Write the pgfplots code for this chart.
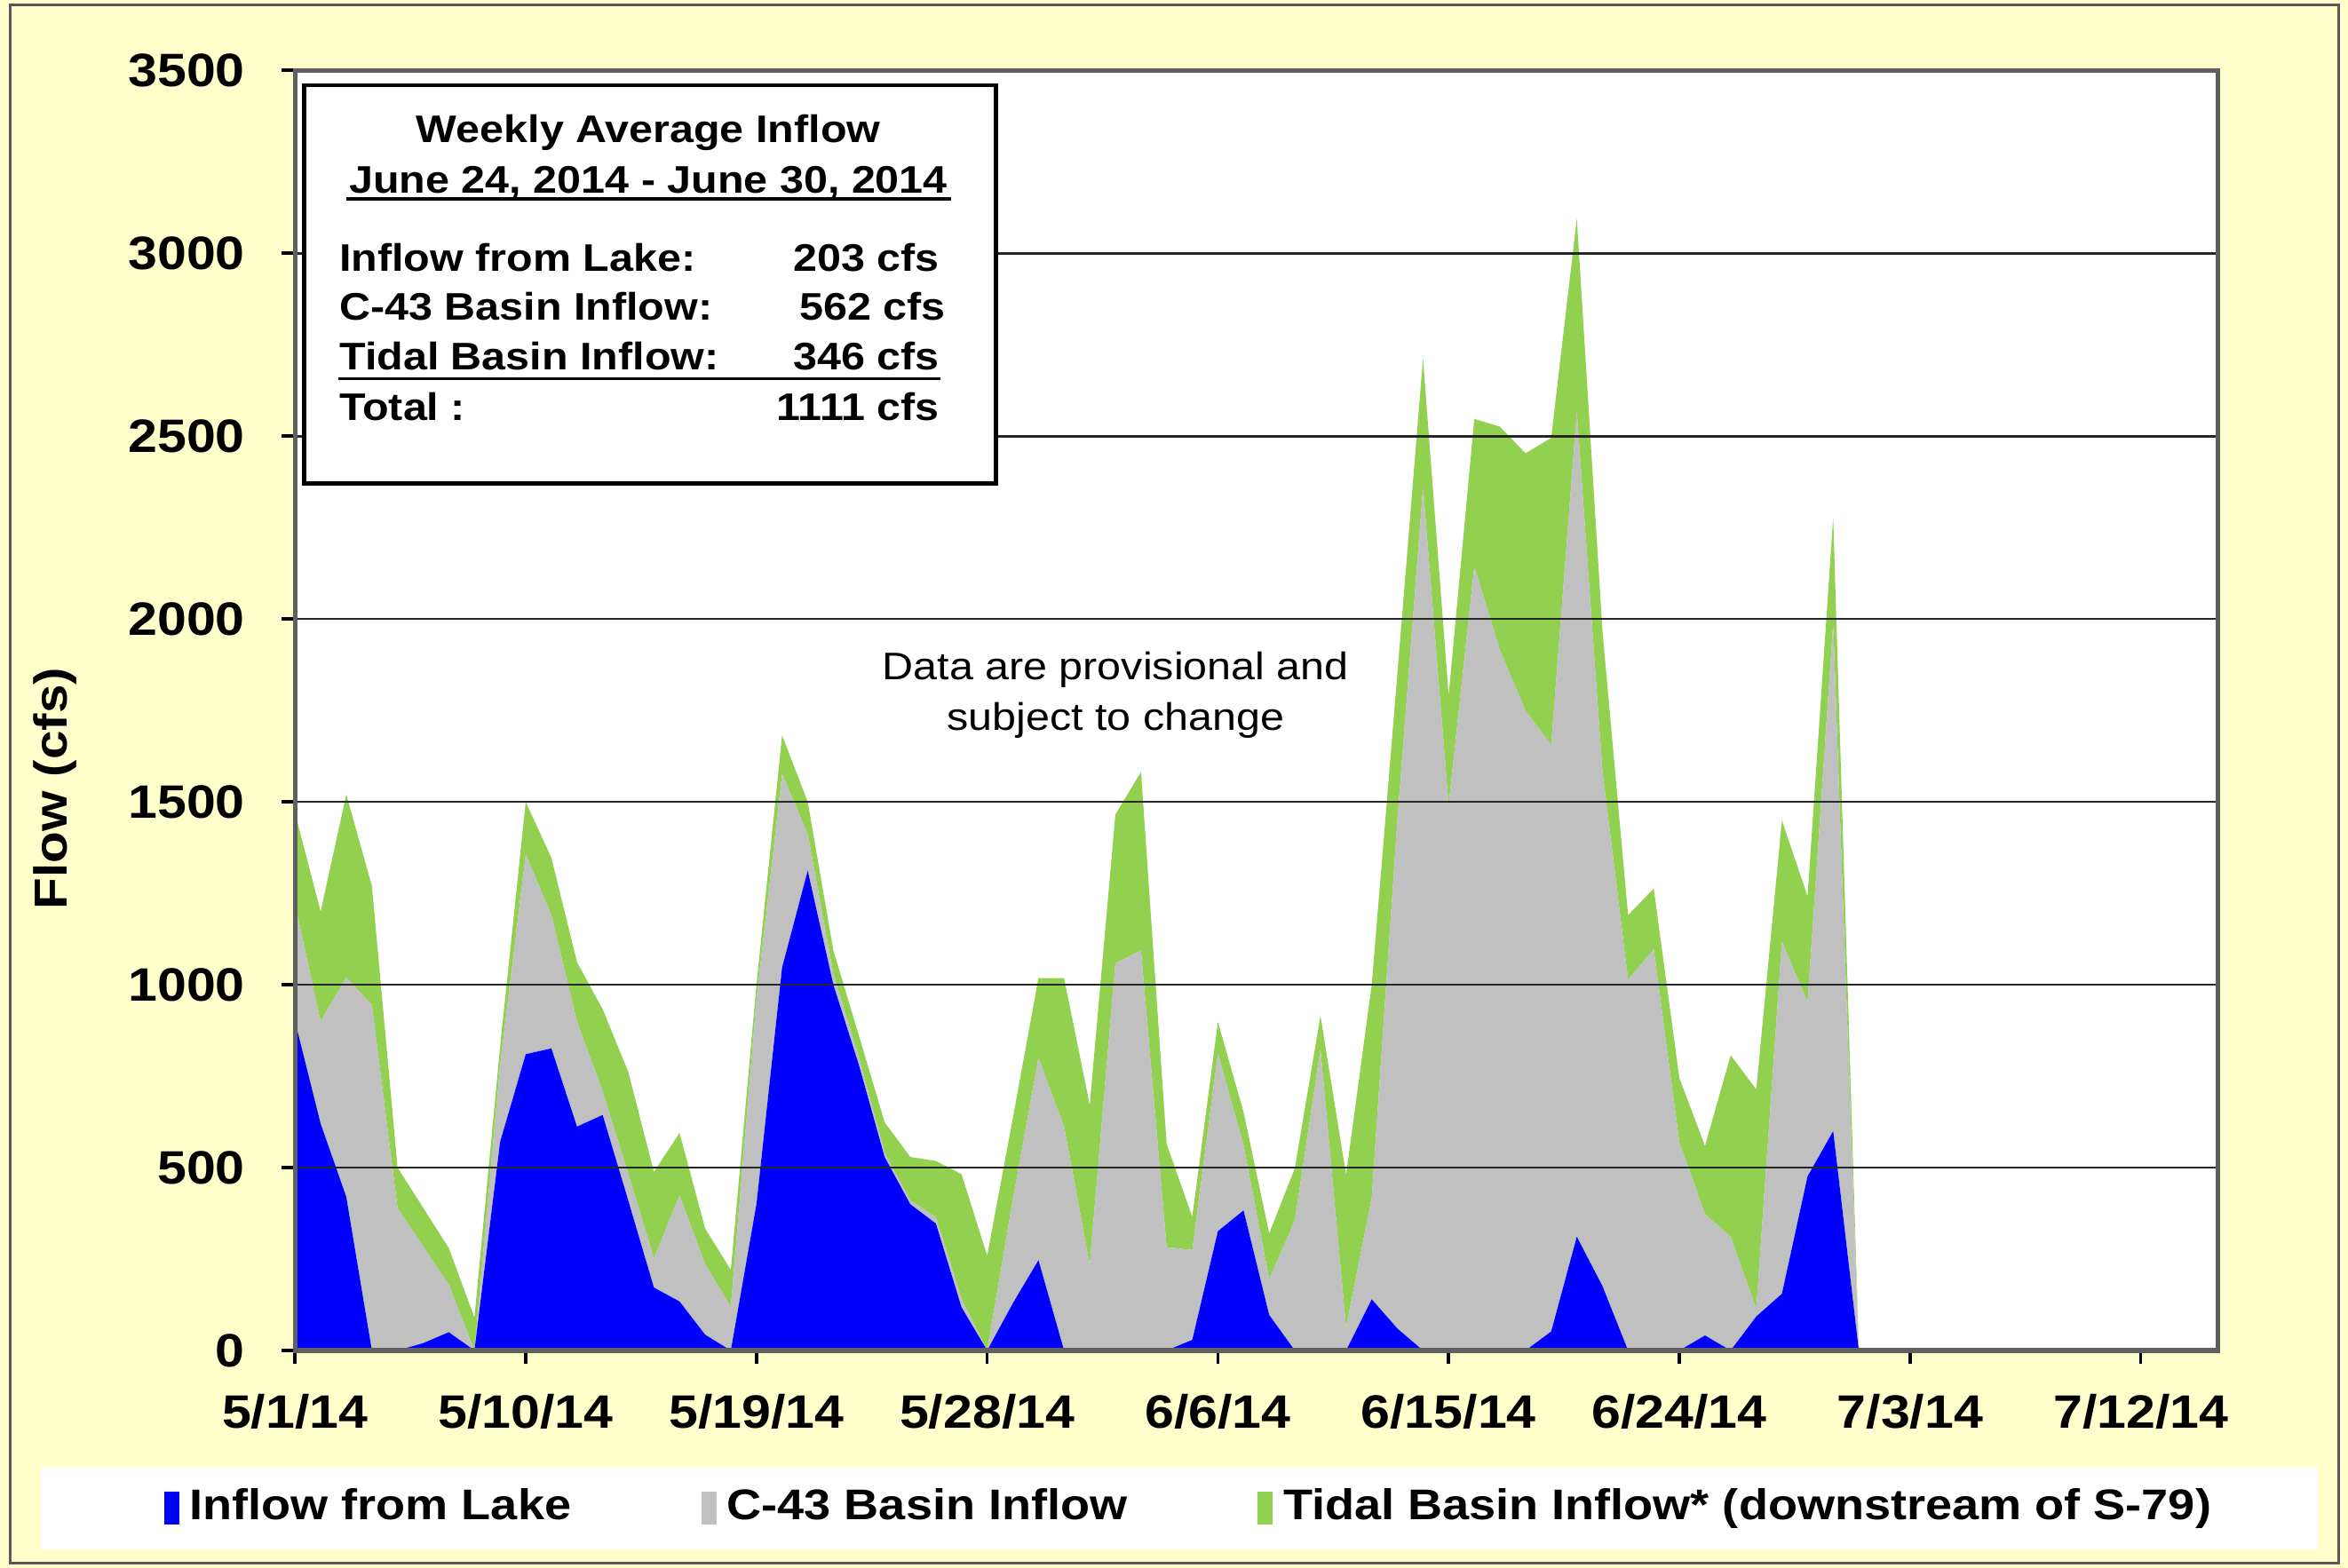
\documentclass[border=0pt]{standalone}
\usepackage{fontspec}
\setmainfont{Liberation Sans}[FakeStretch=1.12]
\usepackage{pgfplots}
\pgfplotsset{compat=1.18}
\usepackage{pgfplotstable}

\definecolor{lakeblue}{HTML}{0000FF}
\definecolor{basingray}{HTML}{C0C0C0}
\definecolor{tidalgreen}{HTML}{92D050}
\definecolor{bgyellow}{HTML}{FFFFCC}

\pgfplotstableread{
d lake c43 tidal
0 900 320 250
1 620 280 300
2 420 600 500
3 0 945 325
4 0 390 110
5 20 265 105
6 50 130 100
7 0 0 90
8 570 210 50
9 810 547 143
10 826 364 157
11 612 288 162
12 644 64 225
13 410 73 279
14 172 80 236
15 134 290 171
16 43 193 97
17 0 120 100
18 400 560 40
19 1047 529 106
20 1312 100 88
21 1000 30 64
22 780 20 60
23 529 12 83
24 400 10 119
25 347 18 153
26 118 23 341
27 0 0 259
28 129 283 223
29 247 553 218
30 0 612 406
31 0 235 436
32 0 1059 406
33 0 1094 488
34 0 282 283
35 29 246 90
36 326 486 86
37 383 178 91
38 97 98 125
39 0 355 143
40 0 824 91
41 0 63 417
42 140 278 582
43 60 1390 400
44 0 2360 352
45 0 1491 300
46 0 2143 404
47 0 1915 611
48 0 1749 704
49 52 1604 839
50 311 2256 528
51 176 1408 383
52 0 1014 176
53 0 1097 166
54 0 569 176
55 41 332 186
56 0 311 496
57 93 21 600
58 155 963 331
59 476 476 290
60 600 1388 289
61 0 0 0
}\flowdata

\begin{document}
\begin{tikzpicture}
\fill[bgyellow] (0,0) rectangle (15.68,10.47);
\draw[gray!70!black, line width=0.5pt] (0.07,0.03) rectangle (15.62,10.44);
\fill[white] (0.27,0.12) rectangle (15.48,0.67);
\begin{axis}[
  at={(1.97cm,1.45cm)}, anchor=south west,
  scale only axis, width=12.84cm, height=8.55cm,
  xmin=0, xmax=75, ymin=0, ymax=3500,
  stack plots=y, area style,
  axis background/.style={fill=white},
  axis line style={draw=gray!75!black, line width=0.9pt},
  ymajorgrids, major grid style={black!85, line width=0.45pt},
  tick align=outside, major tick length=0.09cm,
  tick style={black, line width=0.6pt},
  xtick pos=bottom, ytick pos=left,
  xtick={0,9,...,72},
  xticklabels={5/1/14,5/10/14,5/19/14,5/28/14,6/6/14,6/15/14,6/24/14,7/3/14,7/12/14},
  ytick={0,500,...,3500},
  /pgf/number format/assume math mode=true,
  /pgf/number format/set thousands separator={},
  ticklabel style={font=\fontsize{8.9}{10}\selectfont\bfseries},
  xticklabel style={yshift=-0.08cm},
  yticklabel style={xshift=-0.12cm},
  ylabel={Flow (cfs)},
  ylabel style={font=\fontsize{8.8}{10}\selectfont\bfseries, at={(axis description cs:-0.1246,0.439)}, anchor=center},
  legend image code/.code={\fill[#1] (0cm,-0.11cm) rectangle (0.1cm,0.11cm);},
  legend style={at={(axis description cs:0.467,-0.123)}, anchor=center, draw=none, fill=none,
    font=\fontsize{8.15}{10}\selectfont\bfseries, legend columns=3,
    /tikz/every even column/.append style={column sep=0.8cm}},
]
\addplot[fill=lakeblue, draw=none] table[x=d, y=lake] {\flowdata} \closedcycle;
\addlegendentry{Inflow from Lake}
\addplot[fill=basingray, draw=none] table[x=d, y=c43] {\flowdata} \closedcycle;
\addlegendentry{C-43 Basin Inflow}
\addplot[fill=tidalgreen, draw=none] table[x=d, y=tidal] {\flowdata} \closedcycle;
\addlegendentry{Tidal Basin Inflow* (downstream of S-79)}
\end{axis}
% summary box
\draw[black, line width=0.8pt, fill=white] (2.03,7.24) rectangle (6.65,9.90);
\begin{scope}[every node/.style={inner sep=0pt, font=\fontsize{7.3}{9}\selectfont\bfseries}]
\node[anchor=base] at (4.33,9.52) {Weekly Average Inflow};
\node[anchor=base] at (4.33,9.18) {June 24, 2014 - June 30, 2014};
\draw[black, line width=0.6pt] (2.31,9.14) -- (6.35,9.14);
\node[anchor=base west] at (2.26,8.66) {Inflow from Lake:};
\node[anchor=base east] at (6.28,8.66) {203 cfs};
\node[anchor=base west] at (2.26,8.33) {C-43 Basin Inflow:};
\node[anchor=base east] at (6.32,8.33) {562 cfs};
\node[anchor=base west] at (2.26,8.00) {Tidal Basin Inflow:};
\node[anchor=base east] at (6.28,8.00) {346 cfs};
\draw[black, line width=0.6pt] (2.26,7.94) -- (6.28,7.94);
\node[anchor=base west] at (2.26,7.66) {Total :};
\node[anchor=base east] at (6.28,7.66) {1111 cfs};
\end{scope}
\begin{scope}[every node/.style={inner sep=0pt, font=\fontsize{7.3}{9}\selectfont}]
\node[anchor=base] at (7.45,5.93) {Data are provisional and};
\node[anchor=base] at (7.45,5.59) {subject to change};
\end{scope}
\end{tikzpicture}
\end{document}
